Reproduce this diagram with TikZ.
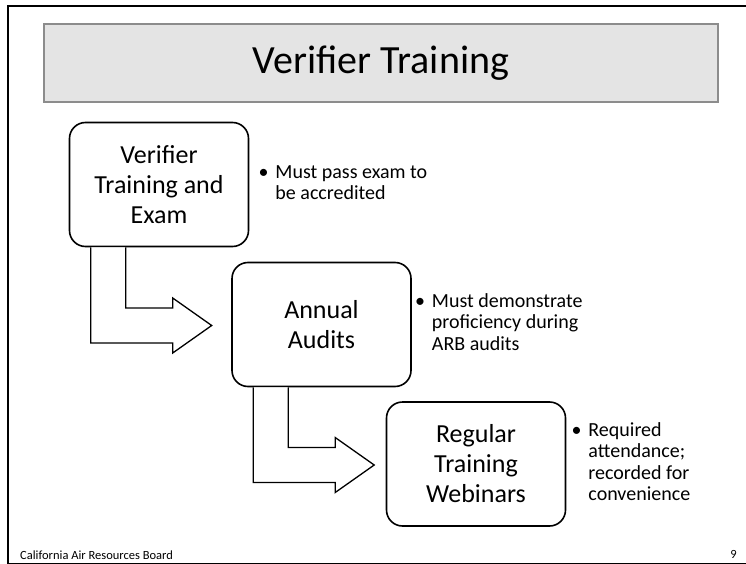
\documentclass[tikz,border=0pt]{standalone}
\usepackage{fontspec}
\setmainfont{Carlito}
\usetikzlibrary{calc,positioning}

\definecolor{titlefill}{HTML}{E4E4E4}
\definecolor{titleline}{HTML}{8C8C8C}

% bent block arrow from the bottom of box #1 to the left side of box #2
\newcommand{\bentarrow}[2]{%
  \coordinate (#1-bend) at (#1.south west |- #2.west);
  \path[draw=black,line width=1.3pt,fill=white,line join=miter]
    ($(#1.south west)+(22,0)$) --
    ($(#1-bend)+(22,18.5)$) --
    ($(#1-bend)+(104,18.5)$) --
    ($(#1-bend)+(104,28.5)$) --
    ($(#1-bend)+(143,1)$) --
    ($(#1-bend)+(104,-26.5)$) --
    ($(#1-bend)+(104,-16.5)$) --
    ($(#1-bend)+(57,-16.5)$) --
    ($(#1.south west)+(57,0)$);
}

\newcommand{\bul}[1]{\begin{tabular}{@{}l@{\hspace{7pt}}l@{}}\textbullet & #1\end{tabular}}

\begin{document}
\begin{tikzpicture}[x=1pt,y=-1pt]
  \useasboundingbox (0,0) rectangle (746,564);
  \draw[line width=2pt] (8,6) rectangle (752,563.5);

  \node[draw=titleline,fill=titlefill,line width=1.8pt,minimum width=674pt,
        minimum height=78pt,inner sep=0pt,font=\fontsize{40}{44}\selectfont]
        (title) at (381,63) {Verifier Training};

  \begin{scope}[every node/.style={draw,line width=1.6pt,rounded corners=16pt,
      fill=white,align=center,minimum width=179pt,minimum height=124pt,
      font=\fontsize{26}{30}\selectfont}]
    \node (exam) at (159,184.5) {Verifier\\Training and\\Exam};
    \node (audit) at (321.5,324.5) {Annual\\Audits};
    \node (webinar) at (476,464) {Regular\\Training\\Webinars};
  \end{scope}

  \bentarrow{exam}{audit}
  \bentarrow{audit}{webinar}

  \begin{scope}[every node/.style={inner sep=0pt,font=\fontsize{20}{21.5}\selectfont}]
    \node[right=9pt of exam] (examnote) {\bul{Must pass exam to\\ & be accredited}};
    \node[right=3pt of audit] (auditnote) {\bul{Must demonstrate\\ & proficiency during\\ & ARB audits}};
    \node[right=5pt of webinar] (webinarnote) {\bul{Required\\ & attendance;\\ & recorded for\\ & convenience}};
  \end{scope}

  \begin{scope}[every node/.style={inner sep=0pt,font=\fontsize{12.5}{14}\selectfont}]
    \node[anchor=west] (footer) at (20,555) {California Air Resources Board};
    \node[anchor=east] (pagenum) at (737,554) {9};
  \end{scope}
\end{tikzpicture}
\end{document}
